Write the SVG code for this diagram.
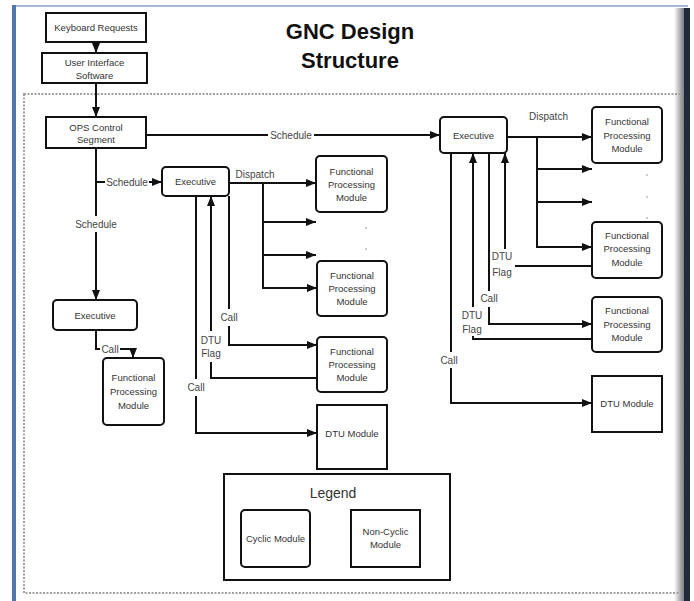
<svg xmlns="http://www.w3.org/2000/svg" width="694" height="601" viewBox="0 0 694 601">
<defs>
<linearGradient id="shade" x1="0" y1="0" x2="1" y2="0">
<stop offset="0" stop-color="#ffffff"/>
<stop offset="1" stop-color="#6b6f75"/>
</linearGradient>
<marker id="ah" viewBox="0 0 10 8" refX="10" refY="4" markerWidth="10" markerHeight="8" markerUnits="userSpaceOnUse" orient="auto">
<path d="M0,0 L10,4 L0,8 z" fill="#111"/>
</marker>
</defs>
<style>
.box{fill:#fff;stroke:#111;stroke-width:2}
.t{font-family:"Liberation Sans",Arial,sans-serif;font-size:9.5px;fill:#333;text-anchor:middle}
.lbl{font-family:"Liberation Sans",Arial,sans-serif;font-size:10px;fill:#444;text-anchor:middle}
.ln{fill:none;stroke:#111;stroke-width:2}
.arr{marker-end:url(#ah)}
.dot{fill:#888}
</style>
<rect x="0" y="0" width="694" height="601" fill="#fff"/>
<g id="frame">
<rect x="13" y="5" width="675" height="2" fill="#a3b8d8"/>
<rect x="12" y="5" width="4" height="596" fill="#5277ad"/>
<rect x="674" y="8" width="11" height="593" fill="url(#shade)"/>
<rect x="684" y="8" width="6" height="593" fill="#1f2b3b"/>
<rect x="24" y="94" width="657" height="499" fill="none" stroke="#a0a0a0" stroke-width="2" stroke-dasharray="2 1.5"/>
</g>
<g id="title">
<text x="350" y="39" font-family="'Liberation Sans',Arial,sans-serif" font-size="22" font-weight="bold" fill="#111" text-anchor="middle">GNC Design</text>
<text x="350" y="68" font-family="'Liberation Sans',Arial,sans-serif" font-size="22" font-weight="bold" fill="#111" text-anchor="middle">Structure</text>
</g>
<g id="connectors">
<path class="ln arr" d="M96,42 V53"/>
<path class="ln arr" d="M96,83 V117"/>
<path class="ln" d="M146,135 H268"/>
<path class="ln arr" d="M314,135 H440"/>
<path class="ln" d="M96,148 V216"/>
<path class="ln arr" d="M96,232 V300"/>
<path class="ln" d="M96,182 H105"/>
<path class="ln arr" d="M149,182 H162"/>
<path class="ln" d="M96,330 V349 H100"/>
<path class="ln arr" d="M120,349 H133 V358"/>
<path class="ln arr" d="M229,183 H316"/>
<path class="ln arr" d="M263,183 V288 H317"/>
<path class="ln arr" d="M263,222 H316"/>
<path class="ln arr" d="M263,255 H316"/>
<path class="ln" d="M229,196 V309"/>
<path class="ln arr" d="M229,326 V345 H317"/>
<path class="ln" d="M317,378 H211 V362"/>
<path class="ln arr" d="M211,331 V196"/>
<path class="ln" d="M196,196 V379"/>
<path class="ln arr" d="M196,396 V433 H317"/>
<path class="ln arr" d="M507,137 H592"/>
<path class="ln arr" d="M537,137 V247 H592"/>
<path class="ln arr" d="M537,169 H592"/>
<path class="ln arr" d="M537,202 H592"/>
<path class="ln" d="M592,266 H515"/>
<path class="ln arr" d="M505,249 V153"/>
<path class="ln" d="M489,153 V291"/>
<path class="ln arr" d="M489,307 V324 H592"/>
<path class="ln" d="M592,339 H473 V336"/>
<path class="ln arr" d="M473,307 V153"/>
<path class="ln" d="M451,153 V352"/>
<path class="ln arr" d="M451,368 V403 H592"/>
<text class="lbl" x="291" y="138.5">Schedule</text>
<text class="lbl" x="96" y="227.5">Schedule</text>
<text class="lbl" x="127" y="185.5">Schedule</text>
<text class="lbl" x="110" y="352.5">Call</text>
<text class="lbl" x="255" y="178">Dispatch</text>
<text class="lbl" x="229" y="320.5">Call</text>
<text class="lbl" x="211" y="343.5">DTU</text>
<text class="lbl" x="211" y="356.5">Flag</text>
<text class="lbl" x="196" y="390.5">Call</text>
<text class="lbl" x="548.5" y="119.5">Dispatch</text>
<text class="lbl" x="502" y="259.5">DTU</text>
<text class="lbl" x="502" y="275.5">Flag</text>
<text class="lbl" x="489" y="301.5">Call</text>
<text class="lbl" x="472" y="318.5">DTU</text>
<text class="lbl" x="472" y="332.5">Flag</text>
<text class="lbl" x="449" y="363.5">Call</text>
<circle class="dot" cx="366" cy="228" r="0.8"/>
<circle class="dot" cx="366" cy="249" r="0.8"/>
<circle class="dot" cx="647" cy="175" r="0.8"/>
<circle class="dot" cx="647" cy="197" r="0.8"/>
<circle class="dot" cx="647" cy="218" r="0.8"/>
</g>
<g id="keyboard">
<rect class="box" x="46" y="13" width="100" height="29"/>
<text class="t" x="96" y="30.5">Keyboard Requests</text>
</g>
<g id="uis">
<rect class="box" x="42" y="53" width="105" height="30"/>
<text class="t" x="94.5" y="65.5">User Interface</text>
<text class="t" x="94.5" y="79">Software</text>
</g>
<g id="ops">
<rect class="box" x="46" y="117" width="100" height="31"/>
<text class="t" x="96" y="130.5">OPS Control</text>
<text class="t" x="96" y="143">Segment</text>
</g>
<g id="exec-left">
<rect class="box" x="53" y="300" width="84" height="30" rx="4"/>
<text class="t" x="95" y="318.5">Executive</text>
</g>
<g id="fpm-left">
<rect class="box" x="103" y="358" width="61" height="67" rx="4"/>
<text class="t" x="133.5" y="380.5">Functional</text>
<text class="t" x="133.5" y="394.5">Processing</text>
<text class="t" x="133.5" y="408.5">Module</text>
</g>
<g id="exec-mid">
<rect class="box" x="162" y="167" width="67" height="29" rx="4"/>
<text class="t" x="195.5" y="185">Executive</text>
</g>
<g id="fpm-mid-1">
<rect class="box" x="316" y="156" width="71" height="56" rx="4"/>
<text class="t" x="351.5" y="174.5">Functional</text>
<text class="t" x="351.5" y="187.5">Processing</text>
<text class="t" x="351.5" y="200.5">Module</text>
</g>
<g id="fpm-mid-2">
<rect class="box" x="317" y="261" width="70" height="55" rx="4"/>
<text class="t" x="352" y="279">Functional</text>
<text class="t" x="352" y="292">Processing</text>
<text class="t" x="352" y="305">Module</text>
</g>
<g id="fpm-mid-3">
<rect class="box" x="317" y="337" width="70" height="55" rx="4"/>
<text class="t" x="352" y="355">Functional</text>
<text class="t" x="352" y="368">Processing</text>
<text class="t" x="352" y="381">Module</text>
</g>
<g id="dtu-mid">
<rect class="box" x="317" y="405" width="70" height="64"/>
<text class="t" x="352" y="436.5">DTU Module</text>
</g>
<g id="exec-right">
<rect class="box" x="440" y="117" width="67" height="36" rx="4"/>
<text class="t" x="473.5" y="138.5">Executive</text>
</g>
<g id="fpm-right-1">
<rect class="box" x="592" y="107" width="70" height="56" rx="4"/>
<text class="t" x="627" y="125">Functional</text>
<text class="t" x="627" y="138.5">Processing</text>
<text class="t" x="627" y="152">Module</text>
</g>
<g id="fpm-right-2">
<rect class="box" x="592" y="222" width="70" height="56" rx="4"/>
<text class="t" x="627" y="238.5">Functional</text>
<text class="t" x="627" y="252">Processing</text>
<text class="t" x="627" y="265.5">Module</text>
</g>
<g id="fpm-right-3">
<rect class="box" x="592" y="297" width="70" height="55" rx="4"/>
<text class="t" x="627" y="314">Functional</text>
<text class="t" x="627" y="327.5">Processing</text>
<text class="t" x="627" y="341">Module</text>
</g>
<g id="dtu-right">
<rect class="box" x="592" y="376" width="70" height="56"/>
<text class="t" x="627" y="406.5">DTU Module</text>
</g>
<g id="legend">
<rect class="box" x="224" y="474" width="226" height="106"/>
<text x="333" y="498" font-family="'Liberation Sans',Arial,sans-serif" font-size="14" fill="#333" text-anchor="middle">Legend</text>
<rect class="box" x="241" y="510" width="69" height="57" rx="4"/>
<text class="t" x="275.5" y="541.5">Cyclic Module</text>
<rect class="box" x="351" y="510" width="69" height="57"/>
<text class="t" x="385.5" y="535">Non-Cyclic</text>
<text class="t" x="385.5" y="548">Module</text>
</g>
</svg>
